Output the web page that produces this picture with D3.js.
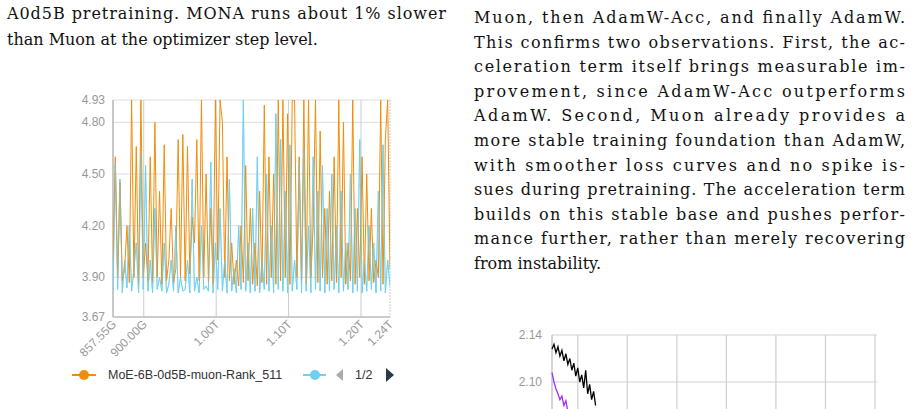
<!DOCTYPE html>
<html><head><meta charset="utf-8">
<script src="https://cdn.jsdelivr.net/npm/d3@7"></script>
<style>body{margin:0;background:#fff}svg{display:block}</style>
</head><body><svg id="c" width="923" height="409"></svg>
<script>
const leftText = ["A0d5B pretraining. MONA runs about 1% slower","than Muon at the optimizer step level."];
const rightText = ["Muon, then AdamW-Acc, and finally AdamW.","This confirms two observations. First, the ac-","celeration term itself brings measurable im-","provement, since AdamW-Acc outperforms","AdamW. Second, Muon already provides a","more stable training foundation than AdamW,","with smoother loss curves and no spike is-","sues during pretraining. The acceleration term","builds on this stable base and pushes perfor-","mance further, rather than merely recovering","from instability."];
const yTicksL = [3.67,3.90,4.20,4.50,4.80,4.93];
const xTicksL = [857.55,900,1000,1100,1200,1240];
const xTickLabelsL = ["857.55G","900.00G","1.00T","1.10T","1.20T","1.24T"];
const orange = [4.0,4.6,3.9,4.45,3.88,3.95,4.2,3.87,4.93,3.9,4.66,3.86,4.93,3.9,4.1,3.88,4.6,3.87,4.8,3.9,4.4,3.86,4.67,3.88,4.0,4.3,3.87,3.95,4.7,3.9,4.73,3.88,4.66,3.92,4.25,4.1,4.7,3.88,4.93,3.9,4.5,3.87,4.3,3.86,4.93,4.0,4.93,4.8,3.9,4.6,3.88,4.1,3.86,4.0,3.85,4.2,3.87,4.55,3.88,4.3,3.86,4.1,3.85,4.4,3.87,4.9,3.86,4.6,3.9,4.5,3.86,4.93,3.88,4.93,3.9,4.85,3.86,4.93,4.93,3.9,4.6,3.88,4.93,3.86,4.93,3.9,4.2,4.93,3.87,4.75,3.9,4.3,3.86,4.4,3.88,4.6,3.87,4.93,3.9,4.8,3.86,4.1,3.88,4.93,3.86,4.3,3.9,4.6,3.86,4.5,3.88,4.3,3.87,4.0,3.9,4.93,3.86,4.7,4.93,3.95];
const blue = [3.82,4.57,3.83,4.47,3.81,4.0,3.84,4.2,3.82,3.95,4.1,3.81,4.62,3.83,4.55,3.82,4.0,3.81,4.3,3.83,3.9,3.82,4.1,3.81,3.86,4.0,3.82,4.2,3.81,3.9,3.82,3.83,4.0,3.81,4.47,3.82,3.9,3.81,4.2,3.83,3.85,3.82,4.57,3.81,4.1,3.83,4.3,3.82,4.0,3.81,4.47,3.82,3.95,3.81,4.2,3.83,4.93,3.82,4.1,3.81,4.3,3.82,4.6,3.81,4.0,3.83,4.5,3.82,4.2,3.81,4.85,3.83,4.7,3.82,4.4,3.81,4.67,3.82,4.0,3.83,4.57,3.81,4.65,3.82,4.2,3.81,4.6,3.83,4.4,3.82,4.55,3.81,4.3,3.82,4.5,3.83,4.2,3.81,4.4,3.82,4.1,3.83,4.5,3.81,4.3,3.82,4.7,3.81,4.0,3.82,4.2,3.83,4.1,3.81,4.4,3.82,4.67,3.81,4.0,3.85];
const legendLabel = "MoE-6B-0d5B-muon-Rank_511";
const yTicksR = [2.10,2.14];
const xGridR = [1,2,3,4,5,6,7];
const blackR = [2.128,2.132,2.125,2.13,2.122,2.127,2.118,2.124,2.115,2.12,2.11,2.116,2.105,2.112,2.1,2.106,2.095,2.11,2.09,2.098,2.085,2.092,2.08];
const purpleR = [2.108,2.1,2.094,2.09,2.085,2.088,2.08,2.084,2.075];

const svg = d3.select("#c");
const serif = "'DejaVu Serif',serif";
function para(lines,x,w,y0,dy,justLast){
  lines.forEach((t,i)=>{
    const el = svg.append("text").attr("x",x).attr("y",y0+i*dy).attr("font-family",serif).attr("font-size",16).attr("fill","#111").text(t);
    if(i<lines.length-1) el.attr("textLength",w).attr("lengthAdjust","spacing");
  });
}
para(leftText,7,439,19,25.5);
para(rightText,474,431,23,24.6);

// left chart
const sans = "'Liberation Sans',Arial,sans-serif";
const xL = d3.scaleLinear().domain([857.55,1240]).range([113,390]);
const yL = d3.scaleLinear().domain([3.67,4.93]).range([317,100]);
const gL = svg.append("g");
yTicksL.forEach(v=>{gL.append("line").attr("x1",113).attr("x2",390).attr("y1",yL(v)).attr("y2",yL(v)).attr("stroke","#ddd");
 gL.append("text").attr("x",105).attr("y",yL(v)+4).attr("text-anchor","end").attr("font-family",sans).attr("font-size",12).attr("fill","#999").text(v.toFixed(2));});
xTicksL.forEach((v,i)=>{gL.append("line").attr("x1",xL(v)).attr("x2",xL(v)).attr("y1",100).attr("y2",317).attr("stroke","#ccc").attr("stroke-dasharray",i==5?"2,1":null);
 gL.append("text").attr("transform",`translate(${xL(v)+4},${325}) rotate(-45)`).attr("text-anchor","end").attr("font-family",sans).attr("font-size",12).attr("fill","#999").text(xTickLabelsL[i]);});
gL.append("line").attr("x1",113).attr("x2",113).attr("y1",100).attr("y2",317).attr("stroke","#aaa");
gL.append("line").attr("x1",113).attr("x2",390).attr("y1",317).attr("y2",317).attr("stroke","#aaa");
svg.append("clipPath").attr("id","cl").append("rect").attr("x",113).attr("y",100).attr("width",277).attr("height",217);
function xs(n){return d3.range(n).map(i=>857.55+i*(1240-857.55)/(n-1));}
const lineL = d3.line().x(d=>xL(d[0])).y(d=>yL(d[1]));
const xo = xs(orange.length), xb = xs(blue.length);
gL.append("path").attr("clip-path","url(#cl)").attr("d",lineL(blue.map((v,i)=>[xb[i],v]))).attr("fill","none").attr("stroke","#6fd0f0").attr("stroke-width",1);
gL.append("path").attr("clip-path","url(#cl)").attr("d",lineL(orange.map((v,i)=>[xo[i],v]))).attr("fill","none").attr("stroke","#f08c0a").attr("stroke-width",1);
gL.append("path").attr("clip-path","url(#cl)").attr("d",lineL(blue.map((v,i)=>[xb[i],v]))).attr("fill","none").attr("stroke","#6fd0f0").attr("stroke-width",0.8).attr("opacity",0.6);
// legend
const ly=375;
gL.append("line").attr("x1",72).attr("x2",96).attr("y1",ly).attr("y2",ly).attr("stroke","#f08c0a").attr("stroke-width",2);
gL.append("circle").attr("cx",84).attr("cy",ly).attr("r",5).attr("fill","#f08c0a");
gL.append("text").attr("x",108).attr("y",ly+4).attr("font-family",sans).attr("font-size",12.5).attr("fill","#333").text(legendLabel);
gL.append("line").attr("x1",303).attr("x2",326).attr("y1",ly).attr("y2",ly).attr("stroke","#6fd0f0").attr("stroke-width",2);
gL.append("circle").attr("cx",315).attr("cy",ly).attr("r",5).attr("fill","#6fd0f0");
gL.append("path").attr("d",`M${343},${ly-6}L${336},${ly}L${343},${ly+6}Z`).attr("fill","#aaa");
gL.append("text").attr("x",355).attr("y",ly+4).attr("font-family",sans).attr("font-size",12.5).attr("fill","#333").text("1/2");
gL.append("path").attr("d",`M${386},${ly-7}L${394},${ly}L${386},${ly+7}Z`).attr("fill","#2a3a4a");

// right chart
const xR = d3.scaleLinear().domain([0.48,7]).range([552,875]);
const yR = d3.scaleLinear().domain([2.10,2.14]).range([382,335]);
const gR = svg.append("g");
yTicksR.forEach(v=>{gR.append("line").attr("x1",552).attr("x2",877).attr("y1",yR(v)).attr("y2",yR(v)).attr("stroke","#dde0e8").attr("stroke-width",1.5);
 gR.append("text").attr("x",542).attr("y",yR(v)+4).attr("text-anchor","end").attr("font-family",sans).attr("font-size",12).attr("fill","#999").text(v.toFixed(2));});
xGridR.forEach(v=>gR.append("line").attr("x1",xR(v)).attr("x2",xR(v)).attr("y1",335).attr("y2",409).attr("stroke","#d0d2d8").attr("stroke-width",1.3));
gR.append("line").attr("x1",552).attr("x2",552).attr("y1",335).attr("y2",409).attr("stroke","#aaa");
const xsR = a=>a.map((v,i)=>[0.48+i*0.04,v]);
const lineR = d3.line().x(d=>xR(d[0])).y(d=>yR(d[1]));
gR.append("path").attr("d",lineR(xsR(purpleR))).attr("fill","none").attr("stroke","#9b30ff").attr("stroke-width",1.3);
gR.append("path").attr("d",lineR(xsR(blackR))).attr("fill","none").attr("stroke","#000").attr("stroke-width",1.3);
</script></body></html>
